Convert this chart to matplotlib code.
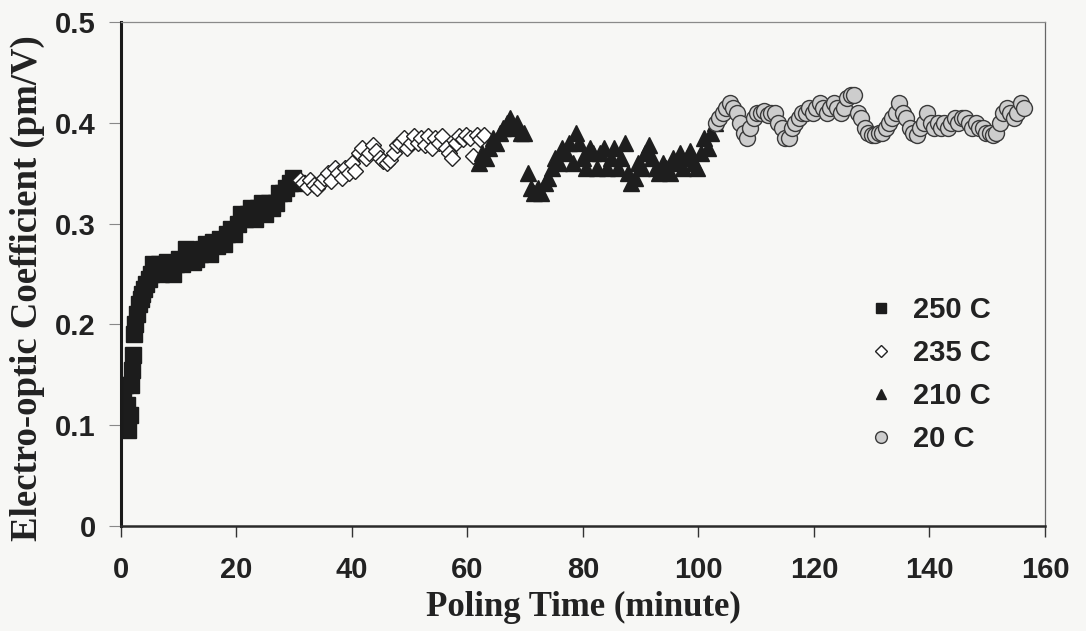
import matplotlib
matplotlib.use("Agg")
import matplotlib.pyplot as plt
from matplotlib.lines import Line2D

# 250 C
t_250 = [0.3, 0.5, 0.7, 0.9, 1.1, 1.3, 1.5, 1.7, 1.9, 2.1, 2.3, 2.5, 2.8, 3.1, 3.4, 3.7,
         4.0, 4.4, 4.8, 5.2, 5.6, 6.0, 6.5, 7.0, 7.5, 8.0, 8.5, 9.0, 9.5, 10.0, 10.6, 11.2,
         11.8, 12.4, 13.0, 13.6, 14.2, 14.8, 15.4, 16.0, 16.6, 17.2, 17.8, 18.4, 19.0, 19.6,
         20.2, 20.8, 21.4, 22.0, 22.6, 23.2, 23.8, 24.4, 25.0, 25.6, 26.2, 26.8, 27.4, 28.0,
         28.6, 29.2, 29.8, 30.4]
r_250 = [0.13, 0.11, 0.14, 0.10, 0.12, 0.095, 0.11, 0.14, 0.155, 0.17, 0.19, 0.20, 0.21, 0.22,
         0.225, 0.23, 0.235, 0.24, 0.245, 0.25, 0.26, 0.255, 0.26, 0.25, 0.255, 0.262, 0.258,
         0.25, 0.26, 0.265, 0.26, 0.275, 0.268, 0.262, 0.265, 0.27, 0.275, 0.28, 0.27, 0.282,
         0.278, 0.285, 0.28, 0.29, 0.295, 0.29, 0.30, 0.31, 0.305, 0.31, 0.315, 0.305, 0.315,
         0.32, 0.31, 0.32, 0.315, 0.32, 0.33, 0.33, 0.335, 0.34, 0.345, 0.34]

# 235 C
t_235 = [31.0, 31.6, 32.2, 32.8, 33.4, 34.0, 34.6, 35.2, 35.8, 36.4, 37.0, 37.6, 38.2, 38.8,
         39.4, 40.0, 40.6, 41.2, 41.8, 42.4, 43.0, 43.6, 44.2, 44.8, 45.4, 46.0, 46.6, 47.2,
         47.8, 48.4, 49.0, 49.6, 50.2, 50.8, 51.4, 52.0, 52.6, 53.2, 53.8, 54.4, 55.0, 55.6,
         56.2, 56.8, 57.4, 58.0, 58.6, 59.2, 59.8, 60.4, 61.0, 61.6, 62.2, 62.8]
r_235 = [0.343, 0.34, 0.336, 0.343, 0.338, 0.335, 0.34, 0.345, 0.35, 0.342, 0.355, 0.35, 0.345,
         0.355, 0.35, 0.36, 0.352, 0.37, 0.375, 0.365, 0.37, 0.378, 0.372, 0.365, 0.362, 0.36,
         0.363, 0.37, 0.378, 0.38, 0.385, 0.375, 0.38, 0.387, 0.38, 0.385, 0.378, 0.387, 0.375,
         0.385, 0.38, 0.387, 0.375, 0.37, 0.365, 0.38, 0.387, 0.384, 0.388, 0.385, 0.367, 0.388,
         0.384, 0.388]

# 210 C
t_210 = [62.0, 62.6, 63.2, 63.8, 64.4, 65.0, 65.6, 66.2, 66.8, 67.4, 68.0, 68.6, 69.2, 69.8,
         70.4, 71.0, 71.6, 72.2, 72.8, 73.4, 74.0, 74.6, 75.2, 75.8, 76.4, 77.0, 77.6, 78.2,
         78.8, 79.4, 80.0, 80.6, 81.2, 81.8, 82.4, 83.0, 83.6, 84.2, 84.8, 85.4, 86.0, 86.6,
         87.2, 87.8, 88.4, 89.0, 89.6, 90.2, 90.8, 91.4, 92.0, 92.6, 93.2, 93.8, 94.4, 95.0,
         95.6, 96.2, 96.8, 97.4, 98.0, 98.6, 99.2, 99.8, 100.4, 101.0, 101.6, 102.2, 102.8]
r_210 = [0.36, 0.37, 0.365, 0.375, 0.385, 0.38, 0.39, 0.395, 0.40, 0.405, 0.395, 0.40, 0.39,
         0.39, 0.35, 0.335, 0.33, 0.335, 0.33, 0.34, 0.345, 0.355, 0.365, 0.36, 0.375, 0.37,
         0.38, 0.36, 0.39, 0.38, 0.365, 0.355, 0.375, 0.37, 0.355, 0.37, 0.375, 0.355, 0.365,
         0.375, 0.355, 0.365, 0.38, 0.35, 0.34, 0.345, 0.36, 0.355, 0.37, 0.378, 0.365, 0.355,
         0.35, 0.36, 0.355, 0.35, 0.365, 0.36, 0.37, 0.355, 0.365, 0.372, 0.36, 0.355, 0.37,
         0.385, 0.375, 0.39, 0.40]

# 20 C
t_20 = [103.0, 103.6, 104.2, 104.8, 105.4, 106.0, 106.6, 107.2, 107.8, 108.4, 109.0, 109.6,
        110.2, 110.8, 111.4, 112.0, 112.6, 113.2, 113.8, 114.4, 115.0, 115.6, 116.2, 116.8,
        117.4, 118.0, 118.6, 119.2, 119.8, 120.4, 121.0, 121.6, 122.2, 122.8, 123.4, 124.0,
        124.6, 125.2, 125.8, 126.4, 127.0, 127.6, 128.2, 128.8, 129.4, 130.0, 130.6, 131.2,
        131.8, 132.4, 133.0, 133.6, 134.2, 134.8, 135.4, 136.0, 136.6, 137.2, 137.8, 138.4,
        139.0, 139.6, 140.2, 140.8, 141.4, 142.0, 142.6, 143.2, 143.8, 144.4, 145.0, 145.6,
        146.2, 146.8, 147.4, 148.0, 148.6, 149.2, 149.8, 150.4, 151.0, 151.6, 152.2, 152.8,
        153.4, 154.0, 154.6, 155.2, 155.8, 156.4]
r_20 = [0.40, 0.405, 0.41, 0.415, 0.42, 0.415, 0.41, 0.40, 0.39, 0.385, 0.395, 0.405, 0.41,
        0.41, 0.412, 0.408, 0.41, 0.41, 0.40, 0.395, 0.385, 0.385, 0.395, 0.40, 0.405, 0.41,
        0.41, 0.415, 0.41, 0.415, 0.42, 0.415, 0.41, 0.415, 0.42, 0.415, 0.41, 0.415, 0.425,
        0.428, 0.428, 0.41, 0.405, 0.395, 0.39, 0.388, 0.388, 0.39, 0.39, 0.395, 0.40, 0.405,
        0.41, 0.42, 0.41, 0.405, 0.395, 0.39, 0.388, 0.395, 0.40, 0.41, 0.40, 0.395, 0.40,
        0.395, 0.40, 0.395, 0.40, 0.405, 0.40, 0.405, 0.405, 0.40, 0.395, 0.40, 0.395, 0.395,
        0.39, 0.39, 0.388, 0.39, 0.40, 0.41, 0.415, 0.41, 0.405, 0.41, 0.42, 0.415]

labels = ["250 C", "235 C", "210 C", "20 C"]
x_ticks = [0, 20, 40, 60, 80, 100, 120, 140, 160]
y_ticks = [0, 0.1, 0.2, 0.3, 0.4, 0.5]
y_ticklabels = ["0", "0.1", "0.2", "0.3", "0.4", "0.5"]

ink = "#222222"
paper = "#f7f7f5"
sans = ["Liberation Sans", "DejaVu Sans"]
serif = ["Liberation Serif", "DejaVu Serif"]

fig = plt.figure(figsize=(10.86, 6.31), dpi=100, facecolor=paper)
ax = fig.add_axes([0.1114, 0.1664, 0.8508, 0.7987])
ax.set_facecolor(paper)

ax.plot(t_250, r_250, "s", ms=11, mfc="#1c1c1c", mec="#1c1c1c", ls="none")
ax.plot(t_235, r_235, "D", ms=8, mfc="white", mec=ink, mew=1.0, ls="none")
ax.plot(t_210, r_210, "^", ms=11, mfc="#1e1e1e", mec="#1e1e1e", ls="none")
ax.plot(t_20, r_20, "o", ms=11.5, mfc="#cdcdcd", mec="#3a3a3a", mew=1.0, ls="none")

ax.set_xlim(0, 160)
ax.set_ylim(0, 0.5)
ax.set_xticks(x_ticks)
ax.set_yticks(y_ticks)
ax.set_yticklabels(y_ticklabels)

for lab in ax.get_xticklabels() + ax.get_yticklabels():
    lab.set_family(sans)
    lab.set_fontweight("bold")
    lab.set_fontsize(21)
    lab.set_color(ink)

ax.tick_params(axis="x", direction="out", length=8, width=1.0, color="#333333", pad=13.5)
ax.tick_params(axis="y", direction="out", length=9, width=0.8, color="#888888", pad=9)

ax.spines["left"].set_linewidth(2.2)
ax.spines["left"].set_color("#1a1a1a")
ax.spines["bottom"].set_linewidth(1.8)
ax.spines["bottom"].set_color("#2a2a2a")
ax.spines["top"].set_linewidth(0.9)
ax.spines["top"].set_color("#8a8a8a")
ax.spines["right"].set_linewidth(0.9)
ax.spines["right"].set_color("#666666")

ax.set_xlabel("Poling Time (minute)", family=serif, fontweight="bold", fontsize=25,
              color=ink, labelpad=5)
ax.set_ylabel("Electro-optic Coefficient (pm/V)", family=serif, fontweight="bold",
              fontsize=26.5, color=ink)
ax.yaxis.set_label_coords(-0.082, 0.472)

handles = [
    Line2D([], [], marker="s", ls="none", ms=6.5, mfc="#1c1c1c", mec="#1c1c1c"),
    Line2D([], [], marker="D", ls="none", ms=6, mfc="white", mec=ink, mew=1.0),
    Line2D([], [], marker="^", ls="none", ms=7.5, mfc="#1e1e1e", mec="#1e1e1e"),
    Line2D([], [], marker="o", ls="none", ms=8.5, mfc="#cdcdcd", mec="#3a3a3a", mew=1.0),
]
leg = ax.legend(handles, labels, loc="upper left", bbox_to_anchor=(0.778, 0.509),
                frameon=False, handlelength=1.0, handletextpad=0.6, labelspacing=0.52,
                prop={"family": sans, "weight": "bold", "size": 21})
for txt in leg.get_texts():
    txt.set_color(ink)

fig.savefig("out.png", dpi=100, facecolor=paper)
